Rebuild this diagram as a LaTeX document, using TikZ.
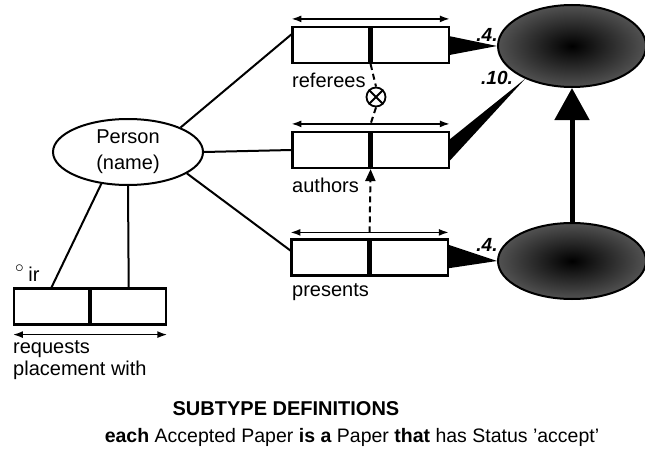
\documentclass[tikz,border=0pt]{standalone}
\usepackage{fontspec}
\setmainfont{Liberation Sans}
\usetikzlibrary{arrows.meta,calc,shapes.geometric}

\tikzset{
  half/.style={draw, line width=2.2pt, minimum width=77pt, minimum height=36pt, inner sep=0pt},
  lab/.style={font=\fontsize{20}{22}\selectfont, inner sep=0pt},
  freq/.style={font=\fontsize{19}{20}\selectfont\bfseries\itshape, inner sep=0pt},
  span/.style={line width=1.6pt, {Latex[length=10pt,width=7pt]}-{Latex[length=10pt,width=7pt]}},
  link/.style={line width=2pt},
  dashlink/.style={line width=2pt, dash pattern=on 6pt off 4pt},
  darkobj/.style={ellipse, draw, line width=2pt, inner color=black, outer color=black!68},
}

\begin{document}
\begin{tikzpicture}[x=1pt,y=-1pt]
\useasboundingbox (0,0) rectangle (645,460);

% object types
\node[ellipse, draw, line width=2pt, minimum width=150pt, minimum height=66pt,
      inner sep=0pt, align=center, font=\fontsize{20}{26}\selectfont] (person) at (128,152) {Person\\(name)};
\node[darkobj, minimum width=148pt, minimum height=82pt] (paper) at (572,46) {};
\node[darkobj, minimum width=148pt, minimum height=76pt] (accpaper) at (572,261) {};

% fact types
\node[half] (refL) at (331,45) {};
\node[half, anchor=west] (refR) at (refL.east) {};
\node[half] (authL) at (331,150) {};
\node[half, anchor=west] (authR) at (authL.east) {};
\node[half] (presL) at (330,257.5) {};
\node[half, anchor=west] (presR) at (presL.east) {};
\node[half, minimum width=75pt] (reqL) at (51.5,306.5) {};
\node[half, minimum width=75pt, anchor=west] (reqR) at (reqL.east) {};

% uniqueness bars
\draw[span] ([yshift=7pt]refL.north west) -- ([yshift=7pt]refR.north east);
\draw[span] ([yshift=7pt]authL.north west) -- ([yshift=7pt]authR.north east);
\draw[span] ([yshift=6pt]presL.north west) -- ([yshift=6pt]presR.north east);
\draw[span] ([yshift=-9pt]reqL.south west) -- ([yshift=-9pt]reqR.south east);

% role labels
\node[lab, anchor=west] (refLab) at (292,80) {referees};
\node[lab, anchor=west] (authLab) at (292,185) {authors};
\node[lab, anchor=west] (presLab) at (292,292) {presents};
\node[lab, anchor=north west, align=left, font=\fontsize{20}{22}\selectfont] (reqLab) at (13,340) {requests\\placement with};
\node[lab, anchor=south west] (irLab) at (15,282) {\fontsize{24}{24}\selectfont$^{\circ}$\,\fontsize{20}{22}\selectfont ir};

% roles to person
\draw[link] (person.25) -- (refL.165);
\draw[link] (person.east) -- (authL.west);
\draw[link] (person.-20) -- (presL.170);
\draw[link] (person.230) -- (reqL.north);
\draw[link] (person.south) -- (reqR.north);

% roles to paper
\fill ($(refR.north east)!0.27!(refR.south east)$) -- ($(refR.north east)!0.76!(refR.south east)$) -- (paper.west) -- cycle;
\fill ($(authR.north east)!0.22!(authR.south east)$) -- ($(authR.north east)!0.78!(authR.south east)$) -- (paper.215) -- cycle;
\fill ($(presR.north east)!0.17!(presR.south east)$) -- ($(presR.north east)!0.78!(presR.south east)$) -- (accpaper.west) -- cycle;
\node[freq] (f1) at (487,35) {.4.};
\node[freq] (f2) at (497,78) {.10.};
\node[freq] (f3) at (487,245) {.4.};

% exclusion and subset constraints
\node[draw, circle, line width=1.8pt, minimum size=19pt, inner sep=0pt] (excl) at (376,97) {};
\draw[line width=1.8pt] (excl.45) -- (excl.225) (excl.135) -- (excl.315);
\draw[dashlink] (refL.south east) -- (excl.north);
\draw[dashlink] (excl.south) -- ([yshift=7pt]authL.north east);
\draw[dashlink, -{Triangle[length=12pt,width=10pt]}] ([yshift=6pt]presL.north east) -- (authL.south east);

% subtype
\draw[line width=5pt, -{Triangle[length=32pt 0,width=34pt 0]}] (accpaper.north) -- (paper.south);

% definitions
\node[font=\fontsize{20}{22}\selectfont\bfseries] (defHead) at (286,409) {SUBTYPE DEFINITIONS};
\node[font=\fontsize{19.5}{22}\selectfont] (defText) at (352,437) {\textbf{each} Accepted Paper \textbf{is a} Paper \textbf{that} has Status 'accept'};
\end{tikzpicture}
\end{document}
